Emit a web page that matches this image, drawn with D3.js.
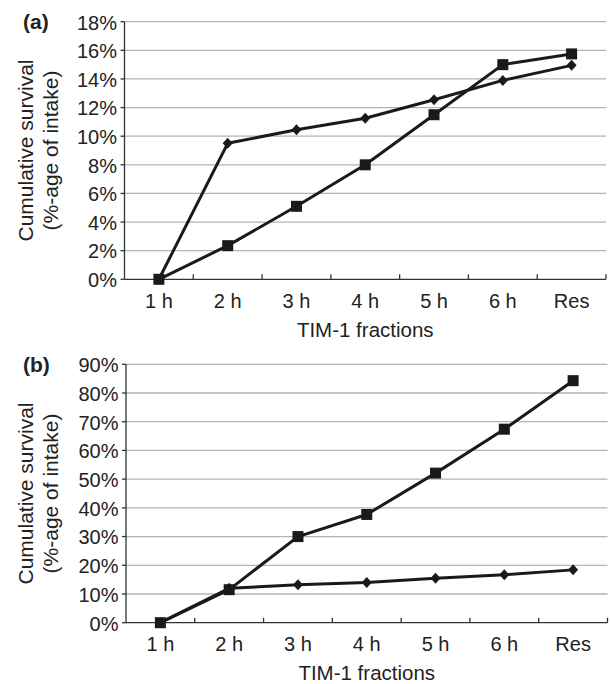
<!DOCTYPE html>
<meta charset="utf-8">
<title>Cumulative survival - TIM-1 fractions</title>
<style>

html, body {
  margin: 0;
  background: #fff;
  overflow: hidden;
}

text {
  font-family: "Liberation Sans", Arial, Helvetica, sans-serif;
  fill: #222;
}

.grid line {
  stroke: #b3b3b3;
  stroke-width: 1.3px;
}

.axis-line {
  stroke: #333;
  stroke-width: 1.3px;
}

.series {
  fill: none;
  stroke: #1a1a1a;
  stroke-width: 3px;
  stroke-linejoin: round;
}

.marker {
  fill: #1a1a1a;
}

</style>
<svg width="610" height="684"></svg>
<script src="https://d3js.org/d3.v7.min.js"></script>
<script>

// fractions on the x axis
var categories = ["1 h", "2 h", "3 h", "4 h", "5 h", "6 h", "Res"];

// panel (a) values, % of intake
var aDiamond = [0, 9.5, 10.45, 11.25, 12.55, 13.9, 14.95];
var aSquare  = [0, 2.35, 5.1, 8.0, 11.5, 15.0, 15.75];
var aTicks   = [0, 2, 4, 6, 8, 10, 12, 14, 16, 18];

// panel (b) values, % of intake
var bDiamond = [0, 12.0, 13.2, 14.0, 15.5, 16.7, 18.4];
var bSquare  = [0, 11.5, 30.0, 37.7, 52.1, 67.4, 84.3];
var bTicks   = [0, 10, 20, 30, 40, 50, 60, 70, 80, 90];

var svg = d3.select("svg");

drawPanel({label: "(a)", left: 124.5, right: 606, top: 21.7, bottom: 279.3,
           ticks: aTicks, diamond: aDiamond, square: aSquare});
drawPanel({label: "(b)", left: 126, right: 607.5, top: 364.3, bottom: 622.7,
           ticks: bTicks, diamond: bDiamond, square: bSquare});

function drawPanel(p) {
  var g = svg.append("g");

  var x = d3.scaleBand()
      .domain(categories)
      .range([p.left, p.right])
      .padding(0);

  var y = d3.scaleLinear()
      .domain([0, d3.max(p.ticks)])
      .range([p.bottom, p.top]);

  var cx = function(d, i) { return x(categories[i]) + x.bandwidth() / 2; };

  // gridlines (skip the zero line, the axis covers it)
  g.append("g").attr("class", "grid")
    .selectAll("line")
    .data(p.ticks.filter(function(t) { return t > 0; }))
    .enter().append("line")
      .attr("x1", p.left)
      .attr("x2", p.right)
      .attr("y1", function(d) { return y(d); })
      .attr("y2", function(d) { return y(d); });

  // y axis line and small outward ticks
  g.append("line").attr("class", "axis-line")
      .attr("x1", p.left).attr("x2", p.left)
      .attr("y1", p.top).attr("y2", p.bottom);

  g.selectAll(".ytick")
    .data(p.ticks)
    .enter().append("line")
      .attr("class", "axis-line ytick")
      .attr("x1", p.left - 4).attr("x2", p.left)
      .attr("y1", function(d) { return y(d); })
      .attr("y2", function(d) { return y(d); });

  g.selectAll(".ylab")
    .data(p.ticks)
    .enter().append("text")
      .attr("class", "ylab")
      .attr("x", p.left - 7.5)
      .attr("y", function(d) { return y(d) + 7.8; })
      .attr("text-anchor", "end")
      .style("font-size", "20px")
      .text(function(d) { return d + "%"; });

  // x axis line, inward ticks at band edges
  g.append("line").attr("class", "axis-line")
      .attr("x1", p.left).attr("x2", p.right)
      .attr("y1", p.bottom).attr("y2", p.bottom);

  g.selectAll(".xtick")
    .data(categories)
    .enter().append("line")
      .attr("class", "axis-line xtick")
      .attr("x1", function(d) { return x(d) + x.bandwidth(); })
      .attr("x2", function(d) { return x(d) + x.bandwidth(); })
      .attr("y1", p.bottom - 5).attr("y2", p.bottom);

  g.selectAll(".xlab")
    .data(categories)
    .enter().append("text")
      .attr("class", "xlab")
      .attr("x", function(d) { return x(d) + x.bandwidth() / 2; })
      .attr("y", p.bottom + 28.5)
      .attr("text-anchor", "middle")
      .style("font-size", "20px")
      .text(function(d) { return d; });

  // axis titles
  g.append("text")
      .attr("x", (p.left + p.right) / 2)
      .attr("y", p.bottom + 57.5)
      .attr("text-anchor", "middle")
      .style("font-size", "20.5px")
      .text("TIM-1 fractions");

  var midY = (p.top + p.bottom) / 2;
  var yTitle = g.append("text")
      .attr("transform", "translate(33," + midY + ") rotate(-90)")
      .attr("text-anchor", "middle")
      .style("font-size", "21px");
  yTitle.append("tspan").attr("x", 0).attr("y", 0).text("Cumulative survival");
  yTitle.append("tspan").attr("x", 0).attr("y", 0).attr("dy", 24.5).text("(%-age of intake)");

  g.append("text")
      .attr("x", 23)
      .attr("y", p.top + 7.3)
      .style("font-size", "21px")
      .style("font-weight", "bold")
      .text(p.label);

  var line = d3.line()
      .x(cx)
      .y(function(d) { return y(d); });

  // diamond series first, squares drawn on top
  g.append("path").attr("class", "series").attr("d", line(p.diamond));
  g.selectAll(".diamond")
    .data(p.diamond)
    .enter().append("path")
      .attr("class", "marker diamond")
      .attr("transform", function(d, i) { return "translate(" + cx(d, i) + "," + y(d) + ")"; })
      .attr("d", "M0,-5.5L5,0L0,5.5L-5,0Z");

  g.append("path").attr("class", "series").attr("d", line(p.square));
  g.selectAll(".square")
    .data(p.square)
    .enter().append("rect")
      .attr("class", "marker square")
      .attr("x", function(d, i) { return cx(d, i) - 5.5; })
      .attr("y", function(d) { return y(d) - 5.5; })
      .attr("width", 11)
      .attr("height", 11);
}

</script>
